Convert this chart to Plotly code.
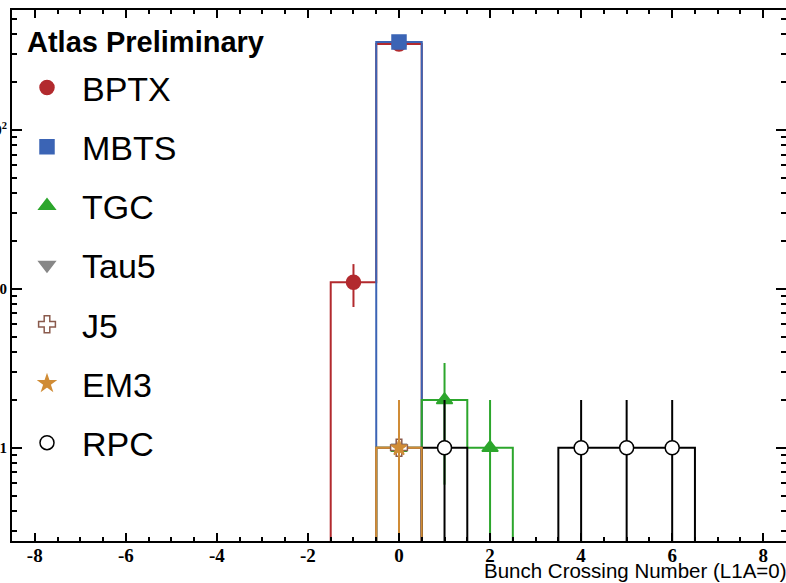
import plotly.graph_objects as go
import math

# ---- data (bunch crossing bins and counts) ----
bptx_bins = [-1, 0]
bptx_counts = [11, 348]
mbts_bins = [0]
mbts_counts = [358]
tgc_bins = [0, 1, 2]
tgc_counts = [1, 2, 1]
tau5_bins = [0]
tau5_counts = [1]
j5_bins = [0]
j5_counts = [1]
em3_bins = [0]
em3_counts = [1]
rpc_bins = [1, 4, 5, 6]
rpc_counts = [1, 1, 1, 1]

x_tick_vals = [-8, -6, -4, -2, 0, 2, 4, 6, 8]
y_tick_vals = [1, 10, 100]
y_tick_text = ["1", "10", "10<sup>2</sup>"]

BIN_LO, BIN_HI = -8, 8
FLOOR = 1e-3

series = [
    # name, bins, counts, color, symbol, marker fill, marker line
    ("BPTX", bptx_bins, bptx_counts, "#b22a2e", "circle", "#b22a2e", "#b22a2e"),
    ("MBTS", mbts_bins, mbts_counts, "#3b64b5", "square", "#3b64b5", "#3b64b5"),
    ("TGC", tgc_bins, tgc_counts, "#2ca62c", "triangle-up", "#2ca62c", "#2ca62c"),
    ("Tau5", tau5_bins, tau5_counts, "#878787", "triangle-down", "#878787", "#878787"),
    ("J5", j5_bins, j5_counts, "#8a5a4c", "cross", "white", "#8a5a4c"),
    ("EM3", em3_bins, em3_counts, "#d08c36", "star", "#d08c36", "#d08c36"),
    ("RPC", rpc_bins, rpc_counts, "#000000", "circle", "white", "#000000"),
]

hist_order = ["BPTX", "MBTS", "TGC", "Tau5", "J5", "RPC", "EM3"]

fig = go.Figure()

def step_arrays(bins, counts):
    full = {b: c for b, c in zip(bins, counts)}
    edges = [b - 0.5 for b in range(BIN_LO, BIN_HI + 1)] + [BIN_HI + 0.5]
    ys = [full.get(b, 0) for b in range(BIN_LO, BIN_HI + 1)]
    ys = [y if y > 0 else FLOOR for y in ys]
    ys = ys + [ys[-1]]
    return edges, ys

lookup = {s[0]: s for s in series}
for name in hist_order:
    _, bins, counts, color, *_ = lookup[name]
    ex, ey = step_arrays(bins, counts)
    fig.add_trace(go.Scatter(x=ex, y=ey, mode="lines", line=dict(color=color, width=2, shape="hv"),
                             showlegend=False, hoverinfo="skip"))

for i, (name, bins, counts, color, symbol, fill, mline) in enumerate(series):
    errs = [math.sqrt(c) for c in counts]
    errs_minus = [min(e, c - FLOOR) for e, c in zip(errs, counts)]
    msize = 12 if symbol == "star" else 14
    fig.add_trace(go.Scatter(
        x=bins, y=counts, mode="markers", name=name, legendgroup=name,
        marker=dict(symbol=symbol, size=msize, color=fill, line=dict(color=mline, width=1.5)),
        error_y=dict(type="data", array=errs, arrayminus=errs_minus, color=color, thickness=2, width=0),
    ))

fig.update_layout(
    width=786, height=583,
    margin=dict(l=12, r=0, t=10, b=42, autoexpand=False),
    paper_bgcolor="white", plot_bgcolor="white",
    showlegend=True,
    legend=dict(x=0, y=0.908, xanchor="left", yanchor="top", bgcolor="rgba(0,0,0,0)",
                font=dict(family="Liberation Sans", size=34, color="black"),
                tracegroupgap=12, itemwidth=60),
    annotations=[
        dict(text="<b>Atlas Preliminary</b>", xref="paper", yref="paper", x=0.02, y=1, xanchor="left",
             yanchor="middle", yshift=-32, xshift=-2, showarrow=False,
             font=dict(family="Liberation Sans", size=29, color="black")),
        dict(text="Bunch Crossing Number (L1A=0)", xref="paper", yref="paper", x=1, y=0,
             xanchor="right", yanchor="top", yshift=-16, xshift=3, showarrow=False,
             font=dict(family="Liberation Sans", size=20.5, color="black")),
    ],
)

fig.update_xaxes(range=[-8.5, 8.5], automargin=False, showgrid=False, zeroline=False, showline=True,
                 linecolor="black", linewidth=2,
                 mirror="allticks", ticks="inside", ticklen=8, tickwidth=2, tickcolor="black",
                 tickmode="array", tickvals=x_tick_vals, ticktext=[f"<b>{v}</b>" for v in x_tick_vals],
                 tickfont=dict(family="Liberation Serif, Times New Roman, serif", size=19, color="black",
                               weight="bold"),
                 ticklabelstandoff=-4,
                 minor=dict(dtick=0.5, tick0=0, ticks="inside", ticklen=4, tickwidth=2, tickcolor="black"))

minor_y = [m * 10 ** d for d in range(-1, 3) for m in range(2, 10)]
fig.update_yaxes(type="log", range=[-0.587, 2.755], automargin=False, showgrid=False, zeroline=False,
                 showline=True, linecolor="black",
                 linewidth=2, mirror="allticks", ticks="inside", ticklen=10, tickwidth=2, tickcolor="black",
                 tickmode="array", tickvals=y_tick_vals, ticktext=[f"<b>{t}</b>" for t in y_tick_text],
                 tickfont=dict(family="Liberation Serif, Times New Roman, serif", size=15, color="black",
                               weight="bold"),
                 minor=dict(tickmode="array", tickvals=minor_y, ticks="inside", ticklen=5, tickwidth=2,
                            tickcolor="black"))

fig.write_html("out.html")
